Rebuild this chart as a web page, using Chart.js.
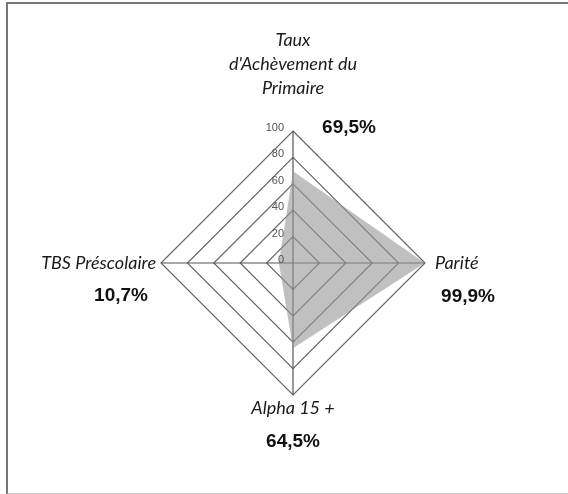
<!DOCTYPE html>
<html>
<head>
<meta charset="utf-8">
<script src="https://cdn.jsdelivr.net/npm/chart.js@4"></script>
<style>
  html, body { margin: 0; padding: 0; background: #fff; }
  body { width: 568px; height: 494px; overflow: hidden; position: relative; }
  .frame { position: absolute; left: 6px; top: 2px; width: 580px; height: 489px; border-left: 2px solid #777; border-top: 2px solid #777; border-bottom: 2px solid #ccc; }
  #wrap { position: absolute; left: 0; top: 0; width: 568px; height: 494px; }
</style>
</head>
<body>
<div class="frame"></div>
<div id="wrap"><canvas id="radar"></canvas></div>
<script>
// indicators, clockwise from the top
const labels = [["Taux", "d'Achèvement du", "Primaire"], "Parité", "Alpha 15 +", "TBS Préscolaire"];
const values = [69.5, 99.9, 64.5, 10.7];
const tickValues = [0, 20, 40, 60, 80, 100];

const fmt = (v) => v.toFixed(1).replace(".", ",") + "%";

// labels and percentages drawn next to each corner of the radar
const cornerLabels = {
  id: "cornerLabels",
  afterDraw(chart) {
    const ctx = chart.ctx;
    const r = chart.scales.r;
    ctx.save();

    // tick labels along the top axis
    ctx.font = "11px 'Liberation Sans', Arial";
    ctx.fillStyle = "#555";
    ctx.textAlign = "right";
    ctx.textBaseline = "middle";
    tickValues.forEach((t) => {
      const p = r.getPointPositionForValue(0, t);
      ctx.fillText(String(t), p.x - 9, p.y - 3);
    });

    const top = r.getPointPosition(0, r.drawingArea);
    const right = r.getPointPosition(1, r.drawingArea);
    const bottom = r.getPointPosition(2, r.drawingArea);
    const left = r.getPointPosition(3, r.drawingArea);

    ctx.font = "italic 18px Lato";
    ctx.fillStyle = "#1a1a1a";
    ctx.textBaseline = "middle";
    ctx.textAlign = "center";
    labels[0].forEach((line, i) => {
      ctx.fillText(line, top.x, top.y - 91 + i * 24);
    });
    ctx.fillText(labels[2], bottom.x, bottom.y + 13);
    ctx.textAlign = "left";
    ctx.fillText(labels[1], right.x + 10, right.y);
    ctx.textAlign = "right";
    ctx.fillText(labels[3], left.x - 5, left.y);

    ctx.font = "bold 19px 'Liberation Sans', Arial";
    ctx.fillStyle = "#111";
    ctx.textAlign = "center";
    ctx.fillText(fmt(values[0]), top.x + 56, top.y - 3);
    ctx.fillText(fmt(values[1]), right.x + 43, right.y + 34);
    ctx.fillText(fmt(values[2]), bottom.x, bottom.y + 47);
    ctx.fillText(fmt(values[3]), left.x - 40, left.y + 33);

    ctx.restore();
  }
};

new Chart(document.getElementById("radar"), {
  type: "radar",
  data: {
    labels: labels,
    datasets: [
      {
        data: values,
        backgroundColor: "rgba(150,150,150,0.6)",
        borderWidth: 0,
        pointRadius: 0,
        fill: true,
      },
    ],
  },
  options: {
    responsive: true,
    maintainAspectRatio: false,
    animation: false,
    layout: { padding: { left: 161, right: 143, top: 131, bottom: 99 } },
    plugins: {
      legend: { display: false },
      tooltip: { enabled: false },
    },
    scales: {
      r: {
        min: 0,
        max: 100,
        ticks: { display: false, stepSize: 20 },
        pointLabels: { display: false },
        grid: { color: "#666", lineWidth: 1.2 },
        angleLines: { color: "#555", lineWidth: 1.2 },
      },
    },
  },
  plugins: [cornerLabels],
});
</script>
</body>
</html>
